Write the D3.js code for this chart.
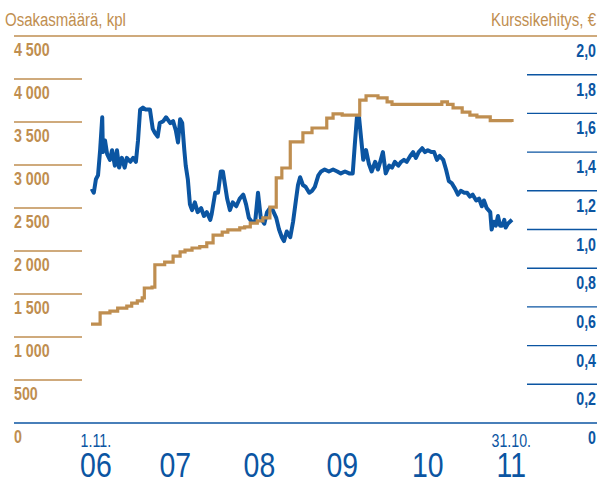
<!DOCTYPE html>
<html>
<head>
<meta charset="utf-8">
<script src="https://cdn.jsdelivr.net/npm/d3@7"></script>
<style>
  body { margin: 0; background: #fff; }
  svg text { font-family: "Liberation Sans", Arial, sans-serif; }
</style>
</head>
<body>
<div id="chart"></div>
<script>
// Osakasmäärä (tan, left axis) ja kurssikehitys (blue, right axis), 1.11.2006 - 31.10.2011

// months since 1.11.2006 and share price, €
const priceMonths = [0.1, 0.4, 0.7, 1.0, 1.3, 1.6, 1.7, 2.0, 2.3, 2.7, 3.0, 3.4, 3.7, 4.0, 4.4, 4.8, 5.1, 5.6, 6.0, 6.4,
  6.7, 7.0, 7.4, 7.8, 8.4, 8.8, 9.1, 9.5, 9.8, 10.3, 10.7, 11.3, 11.7, 12.1, 12.4, 12.7, 13.0, 13.3, 13.5, 13.8,
  14.1, 14.4, 14.8, 15.2, 15.7, 16.1, 16.5, 17.0, 17.2, 17.7, 18.1, 18.5, 18.8, 19.1, 19.4, 19.8, 20.2, 20.7, 21.2, 21.7,
  22.1, 22.5, 22.9, 23.4, 23.8, 24.2, 24.7, 25.1, 25.5, 25.9, 26.4, 26.8, 27.2, 27.5, 27.9, 28.4, 28.8, 29.2, 29.5, 29.8,
  30.2, 30.6, 31.1, 31.5, 31.9, 32.4, 32.8, 33.3, 33.9, 34.5, 35.1, 35.6, 36.2, 36.8, 37.3, 37.6, 37.9, 38.2, 38.5, 38.8,
  39.2, 39.6, 40.0, 40.5, 40.9, 41.3, 41.6, 42.0, 42.5, 42.9, 43.3, 43.8, 44.2, 44.6, 45.0, 45.5, 45.9, 46.3, 46.7, 47.2,
  47.6, 48.0, 48.5, 48.9, 49.3, 49.7, 50.2, 50.6, 51.0, 51.4, 51.9, 52.3, 52.7, 53.2, 53.6, 54.0, 54.4, 54.9, 55.3, 55.7,
  56.0, 56.4, 56.9, 57.1, 57.4, 57.7, 58.0, 58.3, 58.6, 58.9, 59.1, 59.4, 59.7, 60.0];
const priceValues = [1.21, 1.19, 1.26, 1.28, 1.41, 1.58, 1.40, 1.46, 1.39, 1.36, 1.41, 1.33, 1.41, 1.32, 1.37, 1.32, 1.37, 1.35, 1.37, 1.35,
  1.46, 1.62, 1.63, 1.62, 1.62, 1.52, 1.50, 1.48, 1.55, 1.56, 1.58, 1.55, 1.56, 1.51, 1.45, 1.57, 1.55, 1.41, 1.33, 1.26,
  1.13, 1.10, 1.14, 1.09, 1.11, 1.07, 1.09, 1.05, 1.08, 1.19, 1.19, 1.30, 1.30, 1.23, 1.16, 1.10, 1.14, 1.12, 1.16, 1.18,
  1.13, 1.06, 1.04, 1.04, 1.19, 1.06, 1.03, 1.09, 1.11, 1.10, 1.06, 1.00, 0.96, 0.94, 0.99, 0.96, 1.04, 1.15, 1.23, 1.27,
  1.23, 1.22, 1.19, 1.20, 1.22, 1.28, 1.30, 1.31, 1.30, 1.31, 1.30, 1.29, 1.30, 1.29, 1.29, 1.44, 1.58, 1.58, 1.47, 1.36,
  1.41, 1.34, 1.30, 1.35, 1.31, 1.36, 1.40, 1.29, 1.33, 1.32, 1.35, 1.33, 1.35, 1.36, 1.35, 1.38, 1.40, 1.37, 1.40, 1.42,
  1.40, 1.41, 1.40, 1.40, 1.36, 1.38, 1.36, 1.31, 1.25, 1.24, 1.21, 1.18, 1.20, 1.19, 1.19, 1.17, 1.18, 1.15, 1.16, 1.12,
  1.15, 1.11, 1.09, 1.00, 1.04, 1.02, 1.07, 1.02, 1.02, 1.05, 1.01, 1.03, 1.04, 1.05];

// shareholder count, changes at these months
const holderMonths = [0, 1.3, 2.7, 3.8, 5.1, 5.8, 6.6, 7.3, 7.6, 8.7, 9.1, 10.5, 11.7, 12.7, 13.4, 14.4, 15.5, 16.5, 17.4, 18.7,
  19.5, 21.2, 21.9, 22.7, 23.7, 24.5, 25.5, 26.4, 27.2, 28.4, 30.2, 31.5, 33.6, 34.5, 35.8, 38.3, 39.2, 40.9, 42.2, 42.9,
  50.0, 50.8, 51.6, 52.9, 54.0, 55.0, 56.9, 60.0];
const holderValues = [1150, 1280, 1300, 1335, 1360, 1395, 1420, 1455, 1570, 1580, 1840, 1870, 1940, 1990, 2010, 2035, 2050, 2095, 2185, 2220,
  2245, 2270, 2280, 2325, 2350, 2385, 2510, 2850, 2965, 3270, 3375, 3430, 3545, 3595, 3580, 3755, 3805, 3780, 3735, 3705,
  3735, 3705, 3665, 3615, 3580, 3560, 3515, 3500];

const leftTicks = [0, 500, 1000, 1500, 2000, 2500, 3000, 3500, 4000, 4500];
const rightTicks = [0, 0.2, 0.4, 0.6, 0.8, 1.0, 1.2, 1.4, 1.6, 1.8, 2.0];
const yearLabels = ["06", "07", "08", "09", "10", "11"];
const yearMonths = [0.7, 12, 24, 35.8, 48, 59.9];
const dateLabels = ["1.11.", "31.10."];
const dateMonths = [0.7, 59.9];

const width = 602;
const height = 484;
const tan = "#bf8e50";
const blue = "#0b55a2";
const squeeze = 0.79; // condensed look

const fi = d3.formatLocale({decimal: ",", thousands: " ", grouping: [3], currency: ["", " €"]});
const fmtLeft = v => v === 0 ? "0" : fi.format(",")(v);
const fmtRight = v => v === 0 ? "0" : fi.format(".1f")(v);

const svg = d3.select("#chart").append("svg")
    .attr("width", width)
    .attr("height", height);

const x = d3.scaleLinear().domain([0, 60]).range([91, 512]);
const yLeft = d3.scaleLinear().domain([0, 4500]).range([423, 36]);
const yRight = d3.scaleLinear().domain([0, 2]).range([423, 36]);

const place = (px, py) => "translate(" + px + "," + py + ") scale(" + squeeze + ",1)";

// titles
svg.append("text").attr("transform", place(5, 26))
    .attr("fill", tan).attr("font-size", 19).text("Osakasmäärä, kpl");
svg.append("text").attr("transform", place(596, 26)).attr("text-anchor", "end")
    .attr("fill", tan).attr("font-size", 19).text("Kurssikehitys, €");

// short grid lines
svg.selectAll(".lgrid").data(leftTicks.filter(d => d > 0 && d < 4500)).join("line")
    .attr("x1", 14).attr("x2", 82)
    .attr("y1", d => yLeft(d)).attr("y2", d => yLeft(d))
    .attr("stroke", tan).attr("stroke-width", 1.4);
svg.selectAll(".rgrid").data(rightTicks.filter(d => d > 0 && d < 2)).join("line")
    .attr("x1", 527).attr("x2", 597)
    .attr("y1", d => yRight(d)).attr("y2", d => yRight(d))
    .attr("stroke", blue).attr("stroke-width", 1.4);

// top and bottom full lines
svg.append("line").attr("x1", 14).attr("x2", 597)
    .attr("y1", yLeft(4500)).attr("y2", yLeft(4500))
    .attr("stroke", tan).attr("stroke-width", 1.4);
svg.append("line").attr("x1", 14).attr("x2", 597)
    .attr("y1", yLeft(0)).attr("y2", yLeft(0))
    .attr("stroke", blue).attr("stroke-width", 1.4);

// tick labels, placed under their lines
svg.selectAll(".ltick").data(leftTicks).join("text")
    .attr("transform", d => place(14, yLeft(d) + 20))
    .attr("fill", tan).attr("font-size", 18).attr("font-weight", "bold")
    .text(fmtLeft);
svg.selectAll(".rtick").data(rightTicks).join("text")
    .attr("transform", d => place(596, yRight(d) + 21))
    .attr("text-anchor", "end")
    .attr("fill", blue).attr("font-size", 18).attr("font-weight", "bold")
    .text(fmtRight);

// x labels
svg.selectAll(".year").data(yearLabels).join("text")
    .attr("transform", (d, i) => place(x(yearMonths[i]), 477))
    .attr("text-anchor", "middle")
    .attr("fill", blue).attr("font-size", 36)
    .text(d => d);
svg.selectAll(".date").data(dateLabels).join("text")
    .attr("transform", (d, i) => place(x(dateMonths[i]), 447))
    .attr("text-anchor", "middle")
    .attr("fill", blue).attr("font-size", 18)
    .text(d => d);

// price line
const price = priceMonths.map((m, i) => ({m: m, v: priceValues[i]}));
svg.append("path").datum(price)
    .attr("fill", "none").attr("stroke", blue).attr("stroke-width", 4)
    .attr("stroke-linejoin", "round")
    .attr("d", d3.line().x(d => x(d.m)).y(d => yRight(d.v)));

// shareholder step line
const holders = holderMonths.map((m, i) => ({m: m, v: holderValues[i]}));
svg.append("path").datum(holders)
    .attr("fill", "none").attr("stroke", tan).attr("stroke-width", 3.2)
    .attr("d", d3.line().curve(d3.curveStepAfter).x(d => x(d.m)).y(d => yLeft(d.v)));
</script>
</body>
</html>
